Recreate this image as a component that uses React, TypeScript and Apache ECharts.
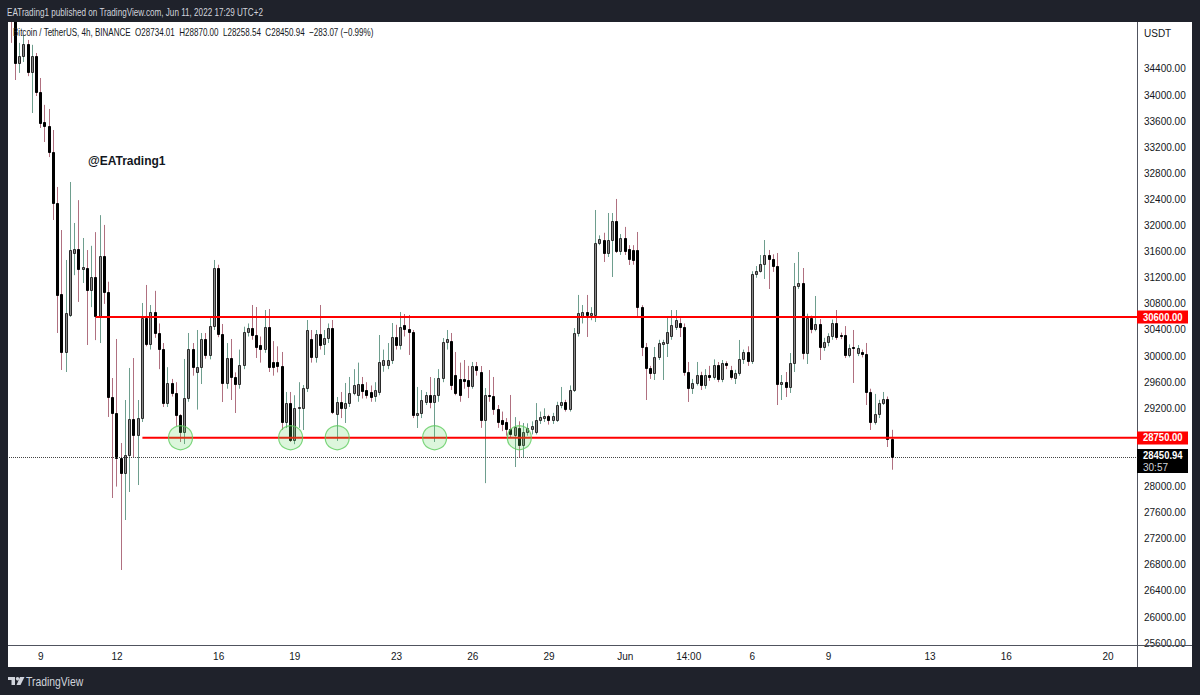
import React, { useEffect, useRef } from "react";
import * as echarts from "echarts";

// ---- data (4h candles, BTC/USDT, May 7 22:00 -> Jun 11 14:00, UTC+2) ----
const OPEN = [
  35500, 35250, 34492, 34600, 34783, 34354, 34600, 34047, 33580, 33530,
  33128, 32346, 30950, 30063, 30630, 31580, 31640, 31340, 31350, 31013,
  31212, 30614, 31534, 30982, 29373, 29128, 28438, 28208, 28484, 29036,
  28790, 29050, 30584, 30186, 30676, 30354, 30109, 29281, 29588, 29434,
  29097, 28840, 29358, 30109, 29750, 29833, 30262, 30017, 30462, 31350,
  30338, 29588, 29971, 29680, 29572, 29864, 30370, 30430, 30323, 30170,
  30109, 30446, 29910, 29910, 29850, 28990, 29281, 28714, 29204, 29204,
  29510, 30262, 29987, 30338, 30186, 30277, 30430, 29112, 29297, 29204,
  29281, 29435, 29400, 29573, 29480, 29450, 29388, 29450, 29860, 29860,
  29940, 30292, 30170, 30477, 30415, 30370, 29097, 29128, 29300, 29404,
  29300, 29404, 29665, 30216, 30230, 29710, 29650, 29650, 29633, 29540,
  29848, 29756, 29020, 29404, 29388, 29190, 29020, 28990, 28883, 28790,
  28900, 28637, 28840, 28880, 28840, 29020, 29050, 29080, 29020, 29020,
  29250, 29290, 29190, 29480, 30354, 30620, 30670, 30630, 30630, 31733,
  31779, 31580, 31779, 32070, 31610, 31810, 31641, 31626, 31626, 30752,
  30139, 29818, 29741, 29986, 30185, 30201, 30308, 30446, 30507, 30446,
  29756, 29511, 29588, 29710, 29557, 29710, 29680, 29864, 29649, 29894,
  29787, 29664, 29741, 29955, 30063, 29925, 31258, 31304, 31411, 31549,
  31488, 31380, 29572, 29603, 29526, 29894, 31074, 31120, 30047, 30584,
  30415, 30492, 30139, 30216, 30308, 30507, 30323, 30323, 30017, 30139,
  30047, 30063, 30032, 29450, 28990, 29113, 29281, 29343, 28734.01,
];
const HIGH = [
  35600, 35400, 34800, 34920, 34845, 34770, 34645, 34262, 33850, 33787,
  33465, 32592, 31932, 31473, 32668, 32040, 32390, 31810, 31625, 31690,
  31900, 32160, 32010, 31140, 29664, 30262, 28668, 29327, 29818, 29970,
  29327, 30814, 31090, 30783, 31000, 30500, 30200, 29830, 29650, 29600,
  29110, 29956, 30354, 30200, 30400, 30354, 30354, 30600, 31473, 31400,
  30492, 30200, 30262, 29750, 30100, 30450, 30500, 30783, 30752, 30300,
  30706, 30722, 30230, 30150, 30063, 29450, 29450, 29400, 29600, 29557,
  30553, 30400, 30400, 30783, 30400, 30500, 30553, 29373, 29450, 29588,
  29680, 29800, 29900, 29680, 29600, 29550, 29600, 30323, 30100, 30200,
  30507, 30480, 30675, 30645, 30630, 30400, 29527, 29480, 29450, 29680,
  29664, 29800, 30277, 30400, 30354, 30063, 29900, 29940, 29850, 29910,
  29910, 29848, 29510, 29787, 29680, 29250, 29150, 29050, 29404, 29065,
  29000, 28975, 28970, 29000, 29280, 29150, 29200, 29100, 29130, 29300,
  29527, 29330, 29550, 30430, 30937, 30783, 30937, 30750, 32239, 31850,
  31890, 32193, 32193, 32408, 31870, 31980, 31700, 31700, 31902, 30780,
  30201, 29850, 30139, 30250, 30250, 30599, 30706, 30706, 30580, 30500,
  29910, 29650, 29910, 29760, 29800, 29850, 29950, 29910, 29940, 29920,
  29850, 29790, 30247, 30100, 30150, 31300, 31380, 31549, 31779, 31626,
  31560, 31580, 29710, 29756, 30047, 31427, 31595, 31350, 30650, 30620,
  30921, 30568, 30280, 30350, 30560, 30706, 30360, 30460, 30180, 30400,
  30170, 30100, 30201, 29500, 29420, 29330, 29450, 29380, 28870,
];
const LOW = [
  34800, 34231, 34340, 34507, 34290, 33725, 33986, 33496, 33281, 33050,
  32086, 30354, 29787, 29756, 30600, 31240, 30830, 31120, 30170, 30750,
  30245, 30200, 30800, 29067, 27825, 28000, 26722, 27488, 27917, 28452,
  28024, 28990, 30150, 30100, 30280, 29800, 29220, 29220, 29380, 28930,
  28683, 28653, 29300, 29700, 29180, 29572, 29960, 29950, 30400, 30290,
  29296, 29500, 29327, 29128, 29500, 29800, 30300, 30250, 29971, 29900,
  30050, 29756, 29700, 29750, 28867, 28900, 28683, 28650, 28900, 28867,
  29450, 29900, 29900, 30100, 30017, 30200, 29112, 28700, 29050, 28975,
  29220, 29400, 29300, 29350, 29350, 29300, 29300, 29400, 29760, 29800,
  29880, 30100, 30100, 30300, 30017, 29050, 28898, 29050, 29250, 29200,
  28684, 29300, 29600, 30100, 29480, 29400, 29300, 29500, 29357, 29500,
  29700, 28900, 28053, 29300, 29100, 28900, 28850, 28780, 28750, 28300,
  28450, 28450, 28780, 28800, 28800, 28960, 28990, 28950, 28960, 28990,
  29200, 29150, 29150, 29450, 30300, 30500, 30293, 30550, 30522, 31700,
  31442, 31519, 31212, 31580, 31550, 31550, 31396, 31400, 30599, 30000,
  29327, 29650, 29634, 29940, 29634, 29986, 30250, 30400, 30292, 29700,
  29297, 29420, 29550, 29480, 29500, 29620, 29640, 29600, 29600, 29800,
  29640, 29572, 29700, 29880, 29850, 29880, 31200, 31280, 31182, 31028,
  31290, 29250, 29327, 29373, 29435, 29756, 31030, 29950, 29879, 30350,
  30380, 29940, 30080, 30150, 30250, 30250, 30260, 29970, 29980, 29588,
  30000, 29980, 29250, 28868, 28950, 29050, 29250, 28607, 28258.54,
];
const CLOSE = [
  35200, 34492, 34600, 34783, 34354, 34600, 34047, 33572, 33530, 33128,
  32346, 30936, 30063, 30660, 31626, 31640, 31335, 31365, 31013, 31212,
  30614, 31534, 30982, 29373, 29128, 28438, 28208, 28484, 29036, 28790,
  29050, 30584, 30186, 30676, 30354, 30109, 29281, 29588, 29434, 29097,
  28840, 29358, 30109, 29833, 29833, 30262, 30017, 30462, 31350, 30338,
  29588, 29971, 29680, 29572, 29864, 30370, 30430, 30323, 30140, 30109,
  30446, 29833, 29833, 29850, 28990, 29281, 28714, 29204, 29220, 29510,
  30400, 29987, 30338, 30170, 30277, 30430, 29143, 29297, 29204, 29281,
  29435, 29557, 29573, 29465, 29403, 29373, 29480, 29910, 29940, 29940,
  30292, 30170, 30446, 30415, 30370, 29097, 29128, 29327, 29404, 29300,
  29404, 29665, 30216, 30262, 29557, 29435, 29404, 29620, 29540, 29848,
  29790, 29020, 29404, 29388, 29190, 28990, 28960, 28883, 28806, 28910,
  28637, 28840, 28900, 28930, 29020, 29065, 29080, 29020, 29080, 29250,
  29290, 29190, 29480, 30354, 30660, 30670, 30630, 30660, 31733, 31795,
  31580, 31779, 32070, 31610, 31810, 31610, 31488, 31473, 30752, 30139,
  29818, 29741, 29986, 30201, 30216, 30369, 30476, 30553, 30446, 29756,
  29511, 29588, 29710, 29557, 29710, 29680, 29864, 29649, 29894, 29864,
  29680, 29741, 29955, 30063, 29925, 31258, 31304, 31411, 31549, 31488,
  31380, 29572, 29603, 29526, 29894, 31074, 31120, 30047, 30584, 30415,
  30492, 30139, 30216, 30308, 30507, 30292, 30308, 30017, 30124, 30124,
  30124, 30032, 29450, 28990, 29113, 29281, 29343, 28734.01, 28450.94,
];

// horizontal levels drawn on the chart
const RESISTANCE = 30600;
const RESISTANCE_FROM = 20; // candle index where the line starts
const SUPPORT = 28750;
const SUPPORT_FROM = 31;
const SUPPORT_TOUCHES = [40, 66, 77, 100, 120]; // candles circled on support

// axis ticks
const X_TICK_IDX = [7, 25, 49, 67, 91, 109, 127, 145, 160, 175, 193, 217, 235, 259];
const X_TICK_TEXT = ["9", "12", "16", "19", "23", "26", "29", "Jun", "14:00", "6", "9", "13", "16", "20"];
const Y_TICKS = [
  25600, 26000, 26400, 26800, 27200, 27600, 28000, 29200, 29600, 30000,
  30400, 30800, 31200, 31600, 32000, 32400, 32800, 33200, 33600, 34000, 34400,
];

const X_MIN = -0.5;
const X_MAX = 265.85;
const Y_MIN = 25600;
const Y_MAX = 35120;

const FONT = "'Liberation Sans', Arial, sans-serif";
const BG = "#1f222b";
const TXT = "#131722";

export default function App() {
  const ref = useRef<HTMLDivElement>(null);

  useEffect(() => {
    document.body.style.margin = "0";
    const el = ref.current;
    if (!el) return;
    const chart = echarts.init(el, null, { renderer: "svg" });

    const candles = OPEN.map((o, i) => [i, o, CLOSE[i], LOW[i], HIGH[i]]);
    const last = OPEN.length - 1;

    const option: any = {
      animation: false,
      backgroundColor: "transparent",
      grid: { left: 9, right: 63, top: 22, bottom: 51.8, containLabel: false },
      xAxis: {
        type: "value",
        min: X_MIN,
        max: X_MAX,
        axisLine: { show: false },
        axisTick: { show: false },
        splitLine: { show: false },
        axisLabel: {
          customValues: X_TICK_IDX,
          formatter: (v: number) => {
            const k = X_TICK_IDX.indexOf(Math.round(v));
            return k >= 0 ? X_TICK_TEXT[k] : "";
          },
          color: TXT,
          fontSize: 10,
          fontFamily: FONT,
          margin: 8,
        },
      },
      yAxis: {
        type: "value",
        position: "right",
        min: Y_MIN,
        max: Y_MAX,
        axisLine: { show: false },
        axisTick: { show: false },
        splitLine: { show: false },
        axisLabel: {
          customValues: Y_TICKS,
          formatter: (v: number) => v.toFixed(2),
          color: TXT,
          fontSize: 10,
          fontFamily: FONT,
          margin: 7,
        },
      },
      series: [
        {
          type: "custom",
          name: "BTCUSDT",
          clip: true,
          z: 2,
          data: candles,
          encode: { x: 0, y: [1, 2, 3, 4] },
          renderItem: (params: any, api: any) => {
            const i = api.value(0);
            const o = api.value(1);
            const c = api.value(2);
            const l = api.value(3);
            const h = api.value(4);
            const po = api.coord([i, o]);
            const pc = api.coord([i, c]);
            const pl = api.coord([i, l]);
            const ph = api.coord([i, h]);
            const up = c >= o;
            const col = Math.floor(po[0]);
            const top = Math.round(Math.min(po[1], pc[1]));
            const bot = Math.round(Math.max(po[1], pc[1]));
            return {
              type: "group",
              children: [
                {
                  type: "line",
                  shape: { x1: col + 0.5, y1: ph[1], x2: col + 0.5, y2: pl[1] },
                  style: { stroke: up ? "#6e9e8e" : "#b07080", lineWidth: 1 },
                },
                {
                  type: "rect",
                  shape: { x: col - 0.5, y: top + 0.5, width: 2, height: Math.max(bot - top, 1) },
                  style: {
                    fill: up ? "#8a8a8a" : "#000000",
                    stroke: up ? "#2a2a2a" : "#000000",
                    lineWidth: 1,
                  },
                },
              ],
            };
          },
          markLine: {
            silent: true,
            symbol: ["none", "none"],
            label: { show: false },
            lineStyle: { type: "dotted", color: "#444", width: 1 },
            data: [{ yAxis: CLOSE[last] }],
          },
        },
        {
          type: "line",
          name: "resistance",
          data: [[RESISTANCE_FROM, RESISTANCE], [X_MAX, RESISTANCE]],
          symbol: "none",
          lineStyle: { color: "#ff0000", width: 2 },
          z: 4,
          silent: true,
        },
        {
          type: "line",
          name: "support",
          data: [[SUPPORT_FROM, SUPPORT], [X_MAX, SUPPORT]],
          symbol: "none",
          lineStyle: { color: "#ff0000", width: 2 },
          z: 4,
          silent: true,
        },
        {
          type: "scatter",
          name: "touches",
          data: SUPPORT_TOUCHES.map((i) => [i, SUPPORT]),
          symbolSize: 24,
          itemStyle: {
            color: "rgba(100, 215, 100, 0.28)",
            borderColor: "#5ccc5c",
            borderWidth: 1.2,
          },
          z: 5,
          silent: true,
        },
      ],
    };
    chart.setOption(option);

    const yOf = (p: number) => chart.convertToPixel({ yAxisIndex: 0 }, p) as number;
    const yR = yOf(RESISTANCE);
    const yS = yOf(SUPPORT);
    const yC = yOf(CLOSE[last]);

    const chg = CLOSE[last] - CLOSE[last - 1];
    const pct = (chg / CLOSE[last - 1]) * 100;
    const sgn = (v: number) => (v < 0 ? "\u2212" : "+") + Math.abs(v).toFixed(2);
    const sp = "\u00a0 ";
    const legend =
      "Bitcoin / TetherUS, 4h, BINANCE" + sp +
      "O" + OPEN[last].toFixed(2) + sp +
      "H" + HIGH[last].toFixed(2) + sp +
      "L" + LOW[last].toFixed(2) + sp +
      "C" + CLOSE[last].toFixed(2) + sp +
      sgn(chg) + " (" + sgn(pct) + "%)";

    const t = (x: number, y: number, text: string, fill: string, font: string, sx = 1, z = 60) => ({
      type: "text",
      x,
      y,
      z,
      scaleX: sx,
      silent: true,
      style: { text, fill, font, textAlign: "left", textVerticalAlign: "middle" },
    });

    const graphic: any[] = [
      { type: "line", z: 50, silent: true, shape: { x1: 8, y1: 645.5, x2: 1192, y2: 645.5 }, style: { stroke: "#50535e", lineWidth: 1 } },
      { type: "line", z: 50, silent: true, shape: { x1: 1137.5, y1: 22, x2: 1137.5, y2: 667 }, style: { stroke: "#50535e", lineWidth: 1 } },
      t(7, 12, "EATrading1 published on TradingView.com, Jun 11, 2022 17:29 UTC+2", "#d1d4dc", "11px " + FONT, 0.74),
      t(13, 32.5, legend, TXT, "11px " + FONT, 0.73),
      t(88, 161, "@EATrading1", TXT, "bold 12px " + FONT),
      t(1144, 33, "USDT", TXT, "10px " + FONT),
      // TradingView footer logo
      { type: "rect", z: 60, silent: true, shape: { x: 8, y: 677, width: 7, height: 3 }, style: { fill: "#d1d4dc" } },
      { type: "rect", z: 60, silent: true, shape: { x: 11.5, y: 677, width: 3.5, height: 8 }, style: { fill: "#d1d4dc" } },
      { type: "circle", z: 60, silent: true, shape: { cx: 17.5, cy: 678.7, r: 1.7 }, style: { fill: "#d1d4dc" } },
      { type: "polygon", z: 60, silent: true, shape: { points: [[20, 677], [24.5, 677], [20.5, 685], [16.5, 685]] }, style: { fill: "#d1d4dc" } },
      t(26, 681.5, "TradingView", "#d1d4dc", "13px " + FONT, 0.8),
      // price boxes on the axis
      { type: "rect", z: 70, silent: true, shape: { x: 1137, y: Math.round(yR) - 6.5, width: 51, height: 13 }, style: { fill: "#ff0000" } },
      t(1143, yR, RESISTANCE.toFixed(2), "#ffffff", "bold 10px " + FONT, 0.95, 71),
      { type: "rect", z: 70, silent: true, shape: { x: 1137, y: Math.round(yS) - 6.5, width: 51, height: 13 }, style: { fill: "#ff0000" } },
      t(1143, yS, SUPPORT.toFixed(2), "#ffffff", "bold 10px " + FONT, 0.95, 71),
      { type: "rect", z: 70, silent: true, shape: { x: 1137, y: Math.round(yC) - 8, width: 51, height: 24 }, style: { fill: "#000000" } },
      t(1143, yC - 1.5, CLOSE[last].toFixed(2), "#ffffff", "bold 10px " + FONT, 0.95, 71),
      t(1143, yC + 10, "30:57", "#d1d4dc", "10px " + FONT, 1, 71),
    ];
    chart.setOption({ graphic });

    return () => chart.dispose();
  }, []);

  return (
    <div style={{ position: "fixed", left: 0, top: 0, width: 1200, height: 695, background: BG, overflow: "hidden" }}>
      <div style={{ position: "absolute", left: 8, top: 22, width: 1184, height: 645, background: "#ffffff" }} />
      <div ref={ref} style={{ position: "absolute", left: 0, top: 0, width: 1200, height: 695 }} />
    </div>
  );
}
